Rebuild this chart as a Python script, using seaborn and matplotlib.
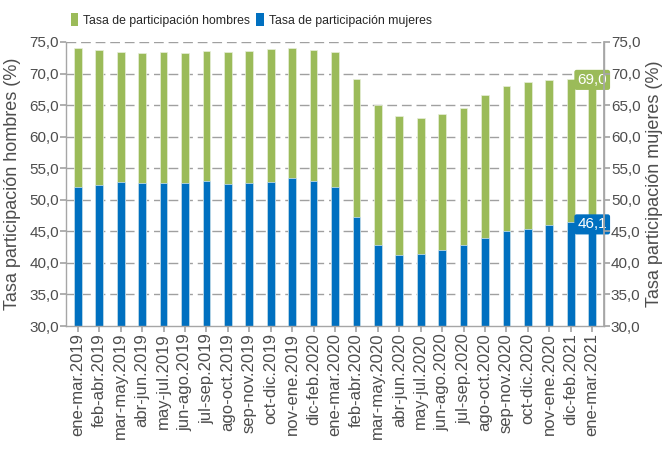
import matplotlib
matplotlib.use("Agg")
import matplotlib.pyplot as plt
import seaborn as sns
import pandas as pd
from matplotlib.patches import Patch

categories = ["ene-mar.2019", "feb-abr.2019", "mar-may.2019", "abr-jun.2019", "may-jul.2019",
              "jun-ago.2019", "jul-sep.2019", "ago-oct.2019", "sep-nov.2019", "oct-dic.2019",
              "nov-ene.2019", "dic-feb.2020", "ene-mar.2020", "feb-abr.2020", "mar-may.2020",
              "abr-jun.2020", "may-jul.2020", "jun-ago.2020", "jul-sep.2020", "ago-oct.2020",
              "sep-nov.2020", "oct-dic.2020", "nov-ene.2020", "dic-feb.2021", "ene-mar.2021"]
hombres = [74.0, 73.7, 73.4, 73.3, 73.4, 73.3, 73.5, 73.4, 73.6, 73.9, 74.0, 73.8, 73.4,
           69.1, 65.0, 63.3, 62.9, 63.6, 64.6, 66.6, 68.0, 68.6, 69.0, 69.2, 69.0]
mujeres = [52.0, 52.3, 52.8, 52.7, 52.6, 52.7, 53.0, 52.5, 52.6, 52.8, 53.4, 53.0, 52.1,
           47.3, 42.9, 41.2, 41.4, 42.0, 42.8, 43.9, 45.1, 45.3, 46.0, 46.4, 46.1]
yticks = [30, 35, 40, 45, 50, 55, 60, 65, 70, 75]

sns.set_theme(style="white")
plt.rcParams["font.family"] = ["Liberation Sans", "DejaVu Sans"]

GREEN = "#9BBB59"
BLUE = "#0070C0"
GRAY = "#4D4D4D"
AX = "#A6A6A6"

df = pd.DataFrame({"cat": categories, "h": hombres, "m": mujeres})

fig = plt.figure(figsize=(6.62, 4.51), dpi=100)
ax = fig.add_axes([66/662, 1-326/451, (604-66)/662, (326-42)/451])

sns.barplot(data=df, x="cat", y="h", color=GREEN, width=0.36, ax=ax, saturation=1,
            edgecolor="#E8F0DA", linewidth=0.5)
sns.barplot(data=df, x="cat", y="m", color=BLUE, width=0.36, ax=ax, saturation=1,
            edgecolor="#CFE3F3", linewidth=0.5)

ax.set_ylim(30, 75)
ax.set_xlim(-0.55, len(categories) - 0.45)
ax.set_yticks(yticks)
ax.set_yticklabels([f"{v:.1f}".replace(".", ",") for v in yticks], fontsize=11, color=GRAY)
ax.set_xticks(range(len(categories)))
ax.set_xticklabels(categories, rotation=90, fontsize=12, color=GRAY)
ax.set_xlabel("")
ax.set_ylabel("Tasa participación hombres (%)", fontsize=13, color=GRAY, labelpad=6)
for y in yticks[1:]:
    ax.axhline(y, color="#A0A0A0", lw=1, ls=(0, (7, 3.5)), zorder=0)
ax.set_axisbelow(True)
ax.spines["top"].set_visible(False)
for s in ["left", "bottom", "right"]:
    ax.spines[s].set_color(AX)
    ax.spines[s].set_linewidth(1)
ax.tick_params(axis="both", which="major", length=4, color=AX, direction="out", pad=1,
               bottom=True, left=True)

ax2 = ax.twinx()
ax2.set_ylim(30, 75)
ax2.set_yticks(yticks)
ax2.set_yticklabels([f"{v:.1f}".replace(".", ",") for v in yticks], fontsize=11, color=GRAY)
ax2.set_ylabel("Tasa participación mujeres (%)", fontsize=13, color=GRAY, labelpad=4)
for s in ["top", "left", "bottom"]:
    ax2.spines[s].set_visible(False)
ax2.spines["right"].set_color(AX)
ax2.tick_params(axis="y", length=4, color=AX, direction="out", pad=1, right=True)

last = len(categories) - 1
ax.text(last, hombres[-1], f"{hombres[-1]:.1f}".replace(".", ","), ha="center", va="center",
        fontsize=11, color="white", zorder=5,
        bbox=dict(boxstyle="round,pad=0.2,rounding_size=0.15", fc=GREEN, ec="none"))
ax.text(last, mujeres[-1], f"{mujeres[-1]:.1f}".replace(".", ","), ha="center", va="center",
        fontsize=11, color="white", zorder=5,
        bbox=dict(boxstyle="round,pad=0.2,rounding_size=0.15", fc=BLUE, ec="none"))

handles = [Patch(facecolor=GREEN, edgecolor="none"), Patch(facecolor=BLUE, edgecolor="none")]
fig.legend(handles, ["Tasa de participación hombres", "Tasa de participación mujeres"],
           loc="center left", bbox_to_anchor=(71/662, 1-20/451), ncol=2, frameon=False,
           fontsize=8.8, handlelength=0.6, handleheight=1.2, handletextpad=0.4,
           columnspacing=0.5, borderaxespad=0, borderpad=0)

fig.savefig("out.png", dpi=100)
